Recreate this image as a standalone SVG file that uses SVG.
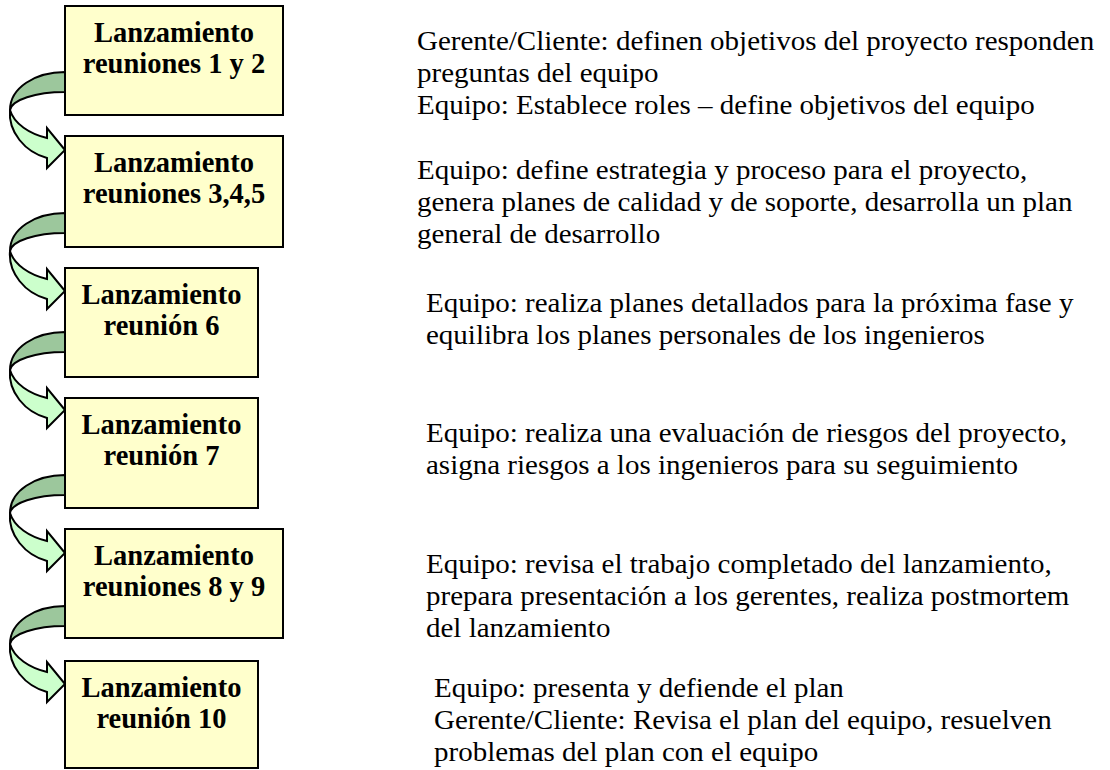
<svg xmlns="http://www.w3.org/2000/svg" width="1110" height="770" viewBox="0 0 1110 770">
<style>
.box{fill:#ffffcc;stroke:#000;stroke-width:2}
.bt{font-family:"Liberation Serif","Times New Roman",serif;font-weight:bold;font-size:28.5px;text-anchor:middle;fill:#000}
.tx{font-family:"Liberation Serif","Times New Roman",serif;font-size:28px;fill:#000}
.dk{fill:#9cc79c;stroke:#000;stroke-width:2;stroke-linejoin:round}
.lt{fill:#ccffcc;stroke:#000;stroke-width:2;stroke-linejoin:miter}
</style>
<defs>
<g id="carrow">
<path class="dk" d="M65,0 C35,0 10,16 10,38 C12,28 35,20 65,20 Z"/>
<path class="lt" d="M10,38 C8,60 25,80 47,86 L47,96 L65,78 L47,56 L47,66 C30,62 14,52 10,38 Z"/>
</g>
</defs>
<g id="connectors">
<use href="#carrow" transform="translate(0,72)"/>
<use href="#carrow" transform="translate(0,213)"/>
<use href="#carrow" transform="translate(0,332)"/>
<use href="#carrow" transform="translate(0,475)"/>
<use href="#carrow" transform="translate(0,606)"/>
</g>
<g id="n1"><rect class="box" x="65" y="6" width="218" height="109"/>
<text class="bt" x="174" y="42">Lanzamiento</text><text class="bt" x="174" y="73">reuniones 1 y 2</text></g>
<g id="n2"><rect class="box" x="65" y="136" width="218" height="111"/>
<text class="bt" x="174" y="172">Lanzamiento</text><text class="bt" x="174" y="203">reuniones 3,4,5</text></g>
<g id="n3"><rect class="box" x="65" y="268" width="193" height="109"/>
<text class="bt" x="161.5" y="304">Lanzamiento</text><text class="bt" x="161.5" y="335">reunión 6</text></g>
<g id="n4"><rect class="box" x="65" y="398" width="193" height="110"/>
<text class="bt" x="161.5" y="434">Lanzamiento</text><text class="bt" x="161.5" y="465">reunión 7</text></g>
<g id="n5"><rect class="box" x="65" y="529" width="218" height="109"/>
<text class="bt" x="174" y="565">Lanzamiento</text><text class="bt" x="174" y="596">reuniones 8 y 9</text></g>
<g id="n6"><rect class="box" x="65" y="661" width="193" height="107"/>
<text class="bt" x="161.5" y="697">Lanzamiento</text><text class="bt" x="161.5" y="728">reunión 10</text></g>
<g id="d1" class="tx" transform="translate(417 0) scale(1.036 1)">
<text x="0" y="50">Gerente/Cliente: definen objetivos del proyecto responden</text>
<text x="0" y="82">preguntas del equipo</text>
<text x="0" y="114">Equipo: Establece roles – define objetivos del equipo</text>
</g>
<g id="d2" class="tx" transform="translate(417 0) scale(1.036 1)">
<text x="0" y="179">Equipo: define estrategia y proceso para el proyecto,</text>
<text x="0" y="211">genera planes de calidad y de soporte, desarrolla un plan</text>
<text x="0" y="243">general de desarrollo</text>
</g>
<g id="d3" class="tx" transform="translate(426 0) scale(1.036 1)">
<text x="0" y="312">Equipo: realiza planes detallados para la próxima fase y</text>
<text x="0" y="344">equilibra los planes personales de los ingenieros</text>
</g>
<g id="d4" class="tx" transform="translate(426 0) scale(1.036 1)">
<text x="0" y="442">Equipo: realiza una evaluación de riesgos del proyecto,</text>
<text x="0" y="474">asigna riesgos a los ingenieros para su seguimiento</text>
</g>
<g id="d5" class="tx" transform="translate(426 0) scale(1.036 1)">
<text x="0" y="573">Equipo: revisa el trabajo completado del lanzamiento,</text>
<text x="0" y="605">prepara presentación a los gerentes, realiza postmortem</text>
<text x="0" y="637">del lanzamiento</text>
</g>
<g id="d6" class="tx" transform="translate(434 0) scale(1.036 1)">
<text x="0" y="697">Equipo: presenta y defiende el plan</text>
<text x="0" y="729">Gerente/Cliente: Revisa el plan del equipo, resuelven</text>
<text x="0" y="761">problemas del plan con el equipo</text>
</g>
</svg>
